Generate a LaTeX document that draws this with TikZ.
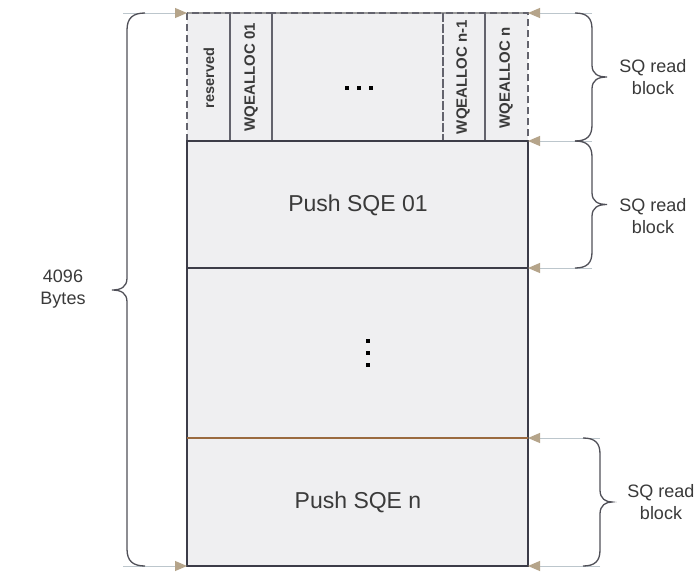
\documentclass[tikz,border=0pt]{standalone}
\usepackage{fontspec}
\setmainfont{Liberation Sans}
\usetikzlibrary{arrows.meta}
\definecolor{txt}{HTML}{3A3A3A}
\definecolor{boxfill}{HTML}{EFEFF1}
\definecolor{boxline}{HTML}{3C3C48}
\definecolor{tan}{HTML}{B5A48A}
\definecolor{guide}{HTML}{BCC6CC}
\definecolor{brown}{HTML}{9A6A40}
\definecolor{bracecol}{HTML}{505058}
\tikzset{
  guideline/.style={draw=guide, line width=1pt, -{Triangle[length=12pt,width=10pt,color=tan]}},
  bracepath/.style={draw=bracecol, line width=1.3pt},
  cell/.style={draw=boxline!80, dashed, dash pattern=on 7pt off 4pt, line width=1.2pt},
  vlabel/.style={rotate=90, font=\fontsize{15}{16}\selectfont\bfseries, text=txt, inner sep=0pt},
  biglabel/.style={font=\fontsize{23}{26}\selectfont, text=txt},
  sidelabel/.style={font=\fontsize{18}{22}\selectfont, text=txt, align=center},
  dot/.style={fill=black, minimum size=4pt, inner sep=0pt, rectangle}
}
\newcommand\myrbrace[4]{%
  \draw[bracepath] ({#1-17},#2) .. controls ({#1-5},#2) and (#1,{#2+5}) .. (#1,{#2+16})
    -- (#1,{(#2+#3)/2-12}) .. controls (#1,{(#2+#3)/2-3}) and ({#1+6},{(#2+#3)/2}) .. (#4,{(#2+#3)/2})
    .. controls ({#1+6},{(#2+#3)/2}) and (#1,{(#2+#3)/2+3}) .. (#1,{(#2+#3)/2+12})
    -- (#1,{#3-16}) .. controls (#1,{#3-5}) and ({#1-5},#3) .. ({#1-17},#3);}
\begin{document}
\begin{tikzpicture}[x=1pt,y=-1pt]
\useasboundingbox (0,0) rectangle (694,573);
\fill[white] (0,0) rectangle (694,573);
% body fill
\fill[boxfill] (187,13) rectangle (528,566);
% header cells
\draw[draw=gray!80, line width=1.2pt] (187,13) -- (528,13);
\draw[cell] (187,13) rectangle (230,141);
\draw[cell] (230,13) rectangle (272,141);
\draw[cell] (272,13) rectangle (443,141);
\draw[cell] (443,13) rectangle (485,141);
\draw[cell] (485,13) rectangle (528,141);
% body rows
\draw[draw=boxline, line width=1.3pt] (187,141) rectangle (528,566);
\draw[draw=boxline, line width=1.3pt] (187,268) -- (528,268);
\draw[draw=brown, line width=1.6pt] (187,438) -- (528,438);
% labels
\node[vlabel, font=\fontsize{14.5}{15}\selectfont\bfseries] (res) at (209,78) {reserved};
\node[vlabel] (w1) at (251,77) {WQEALLOC 01};
\node[vlabel] (wn1) at (463,77) {WQEALLOC n-1};
\node[vlabel] (wn) at (506,78) {WQEALLOC n};
\node[dot] (d1) at (347,88) {};
\node[dot] (d2) at (359,88) {};
\node[dot] (d3) at (371,88) {};
\node[biglabel] (p1) at (358,205) {Push SQE 01};
\node[dot] (v1) at (368,341) {};
\node[dot] (v2) at (368,353) {};
\node[dot] (v3) at (368,365) {};
\node[biglabel] (pn) at (358,502) {Push SQE n};
% guide coordinates
\coordinate (L1) at (123,13);  \coordinate (T0) at (187,13);
\coordinate (L2) at (123,566); \coordinate (B0) at (187,566);
\coordinate (R1) at (592,13);  \coordinate (T1) at (528,13);
\coordinate (R2) at (592,141); \coordinate (T2) at (528,141);
\coordinate (R3) at (592,268); \coordinate (T3) at (528,268);
\coordinate (R4) at (600,438); \coordinate (T4) at (528,438);
\coordinate (R5) at (600,566); \coordinate (T5) at (528,566);
\draw[guideline] (L1) -- (T0);
\draw[guideline] (L2) -- (B0);
\draw[guideline] (R1) -- (T1);
\draw[guideline] (R2) -- (T2);
\draw[guideline] (R3) -- (T3);
\draw[guideline] (R4) -- (T4);
\draw[guideline] (R5) -- (T5);
% left brace
\draw[bracepath] (145,13) .. controls (133,13) and (127,18) .. (127,30)
  -- (127,278) .. controls (127,287) and (121,290) .. (112,290)
  .. controls (121,290) and (127,293) .. (127,302)
  -- (127,549) .. controls (127,561) and (133,566) .. (145,566);
\node[sidelabel] (bytes) at (63,289) {4096\\Bytes};
% right braces
\myrbrace{592}{13}{141}{607}
\myrbrace{592}{141}{268}{607}
\myrbrace{600}{438}{566}{612}
\node[sidelabel] (s1) at (653,77) {SQ read\\block};
\node[sidelabel] (s2) at (653,216) {SQ read\\block};
\node[sidelabel] (s3) at (661,502) {SQ read\\block};
\end{tikzpicture}
\end{document}
